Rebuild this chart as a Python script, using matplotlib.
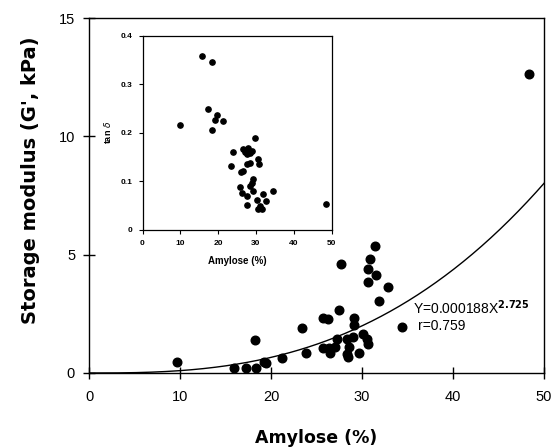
import matplotlib
matplotlib.use("Agg")
import matplotlib.pyplot as plt
import numpy as np

# Main plot data: amylose (%) vs storage modulus G' (kPa)
amylose_main = [31.4, 30.9, 27.7, 30.7, 31.5, 30.7, 32.9, 31.9, 27.5, 25.7, 26.3, 29.1, 29.1,
                23.4, 34.4, 18.2, 30.1, 30.5, 30.7, 29.0, 28.3, 27.3, 28.6, 27.0, 26.4, 25.7,
                26.5, 28.3, 29.7, 28.5, 23.9, 21.2, 19.4, 19.2, 9.7, 15.9, 17.3, 18.3, 48.4]
gprime_main = [5.37, 4.82, 4.62, 4.40, 4.13, 3.83, 3.62, 3.06, 2.65, 2.34, 2.28, 2.34, 2.03,
               1.89, 1.96, 1.40, 1.65, 1.44, 1.21, 1.51, 1.42, 1.42, 1.09, 1.09, 1.04, 1.04,
               0.83, 0.80, 0.83, 0.69, 0.83, 0.62, 0.41, 0.48, 0.48, 0.20, 0.20, 0.20, 12.64]

# Inset data: amylose (%) vs tan delta
amylose_inset = [15.8, 18.4, 9.8, 17.4, 19.6, 19.3, 21.4, 18.3, 29.8, 24.0, 26.7, 27.1, 27.6,
                 28.4, 28.9, 28.0, 23.4, 27.6, 28.4, 30.6, 30.8, 26.7, 26.1, 29.3, 28.9, 28.4,
                 25.8, 26.4, 27.6, 29.3, 32.0, 34.6, 27.7, 30.2, 32.8, 31.1, 31.5, 30.6, 48.5]
tand_inset = [0.358, 0.345, 0.215, 0.248, 0.236, 0.226, 0.224, 0.205, 0.189, 0.161, 0.166, 0.161,
              0.157, 0.159, 0.162, 0.168, 0.132, 0.135, 0.137, 0.145, 0.135, 0.121, 0.120, 0.104,
              0.096, 0.091, 0.088, 0.077, 0.070, 0.080, 0.075, 0.081, 0.051, 0.062, 0.059, 0.049,
              0.044, 0.044, 0.054]

# Fitted power curve Y = a * X^b
fit_a = 0.000188
fit_b = 2.725

main_xticks = [0, 10, 20, 30, 40, 50]
main_yticks = [0, 5, 10, 15]
inset_xticks = [0, 10, 20, 30, 40, 50]
inset_yticks = [0.0, 0.1, 0.2, 0.3, 0.4]

plt.rcParams['font.family'] = ['Liberation Sans', 'DejaVu Sans']

fig = plt.figure(figsize=(5.54, 4.47), dpi=100)
ax = fig.add_axes([89/554, 74/447, 455/554, 355/447])

ax.plot(amylose_main, gprime_main, 'o', color='black', markersize=6.2, zorder=3)
xf = np.linspace(0, 50, 300)
ax.plot(xf, fit_a * xf ** fit_b, color='black', linewidth=1.0)

ax.set_xlim(0, 50)
ax.set_ylim(0, 15)
ax.set_xticks(main_xticks)
ax.set_yticks(main_yticks)
ax.tick_params(direction='inout', length=8, width=1.0, labelsize=10.5, pad=8)
ax.tick_params(axis='y', pad=6)
for s in ax.spines.values():
    s.set_linewidth(1.0)
ax.set_xlabel('Amylose (%)', fontsize=12.5, fontweight='bold', family='DejaVu Sans', labelpad=18)
ax.set_ylabel("Storage modulus (G', kPa)", fontsize=14, fontweight='bold', family='DejaVu Sans')
ax.yaxis.set_label_coords(-49/455, (373-180)/355)

ax.text(35.6, 2.75, r'Y=0.000188X$^{\mathbf{2.725}}$', fontsize=10, va='center', ha='left')
ax.text(36.1, 2.0, 'r=0.759', fontsize=10, va='center', ha='left')

# Inset
ins = fig.add_axes([142.5/554, (447-230)/447, 189/554, 194.5/447])
ins.plot(amylose_inset, tand_inset, 'o', color='black', markersize=3.8)
ins.set_xlim(0, 50)
ins.set_ylim(0, 0.4)
ins.set_xticks(inset_xticks)
ins.set_yticks(inset_yticks)
ins.set_yticklabels(['0', '0.1', '0.2', '0.3', '0.4'])
ins.tick_params(direction='out', length=3, width=0.8, labelsize=6, pad=4)
for lab in ins.get_xticklabels() + ins.get_yticklabels():
    lab.set_fontweight('bold')
for s in ins.spines.values():
    s.set_linewidth(0.9)
ins.set_xlabel('Amylose (%)', fontsize=7, fontweight='bold', labelpad=7)
ins.set_ylabel(r'tan $\delta$', fontsize=6.5, fontweight='bold', labelpad=6)

fig.savefig('out.png', dpi=100)
